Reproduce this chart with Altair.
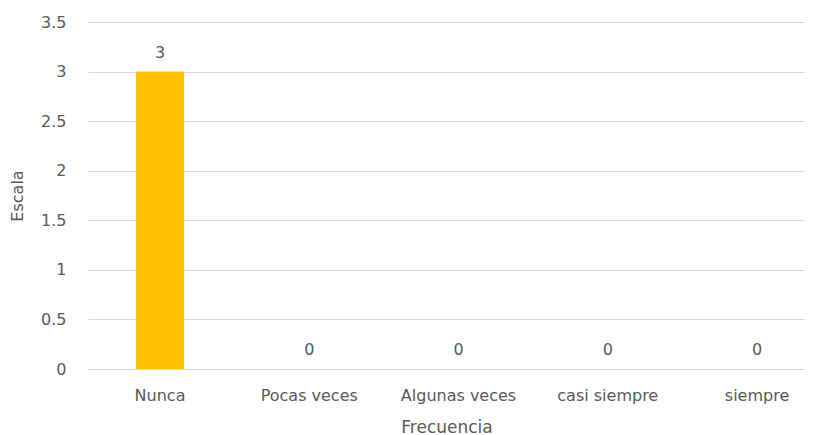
import altair as alt
import pandas as pd

categories = ["Nunca", "Pocas veces", "Algunas veces", "casi siempre", "siempre"]
values = [3, 0, 0, 0, 0]

df = pd.DataFrame({"Frecuencia": categories, "Escala": values})

FONT = "DejaVu Sans"
GREY = "#595959"
FS = 16

x = alt.X("Frecuencia:N", sort=categories,
          scale=alt.Scale(paddingInner=0.678, paddingOuter=0.241, align=0.667),
          axis=alt.Axis(title="Frecuencia", labelAngle=0, labelPadding=18,
                        titlePadding=16, titleFontSize=17,
                        domain=False, ticks=False, grid=False))
y = alt.Y("Escala:Q", scale=alt.Scale(domain=[0, 3.5]),
          axis=alt.Axis(title="Escala", values=[0, 0.5, 1, 1.5, 2, 2.5, 3, 3.5],
                        format="~g", labelPadding=22, titlePadding=15,
                        domain=False, ticks=False, gridColor="#D9D9D9"))

bars = alt.Chart(df).mark_bar(color="#FFC000").encode(x=x, y=y)
labels = alt.Chart(df).mark_text(baseline="alphabetic", dy=-14, font=FONT,
                                 fontSize=FS, color=GREY).encode(
    x=alt.X("Frecuencia:N", sort=categories), y="Escala:Q", text="Escala:Q")

chart = (bars + labels).properties(
    width=717, height=347,
    autosize=alt.AutoSizeParams(type="none"),
    padding={"left": 80, "top": 14, "right": 0, "bottom": 66},
).configure_view(stroke=None).configure_axis(
    labelFont=FONT, titleFont=FONT, labelFontSize=FS, titleFontSize=FS,
    labelColor=GREY, titleColor=GREY, titleFontWeight="normal",
)

chart.save("out.html", embed_options={"renderer": "svg", "actions": False})
